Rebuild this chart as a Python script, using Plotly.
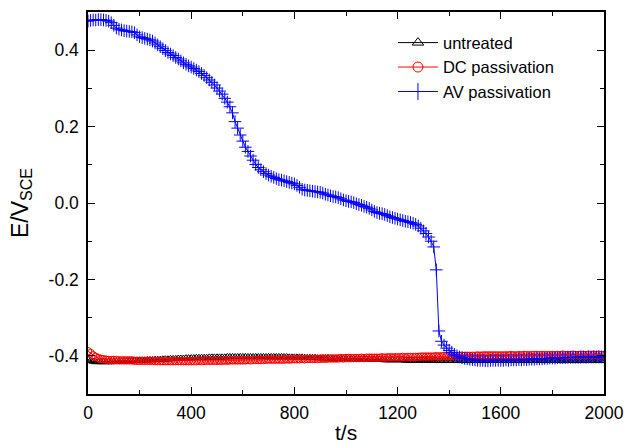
import plotly.graph_objects as go

t = list(range(0, 2001, 10))

untreated = [
    -0.410, -0.413, -0.415, -0.416, -0.416, -0.416, -0.416, -0.416, -0.416, -0.416,
    -0.416, -0.415, -0.415, -0.415, -0.414, -0.414, -0.414, -0.413, -0.413, -0.413,
    -0.412, -0.412, -0.412, -0.411, -0.411, -0.411, -0.410, -0.410, -0.410, -0.409,
    -0.409, -0.409, -0.408, -0.408, -0.408, -0.407, -0.407, -0.407, -0.406, -0.406,
    -0.406, -0.406, -0.405, -0.405, -0.405, -0.405, -0.405, -0.404, -0.404, -0.404,
    -0.404, -0.404, -0.404, -0.404, -0.403, -0.403, -0.403, -0.403, -0.403, -0.403,
    -0.403, -0.403, -0.403, -0.403, -0.403, -0.403, -0.403, -0.403, -0.403, -0.403,
    -0.403, -0.403, -0.403, -0.403, -0.403, -0.403, -0.403, -0.403, -0.404, -0.404,
    -0.404, -0.404, -0.404, -0.404, -0.405, -0.405, -0.405, -0.405, -0.405, -0.406,
    -0.406, -0.406, -0.406, -0.406, -0.407, -0.407, -0.407, -0.407, -0.407, -0.408,
    -0.408, -0.408, -0.408, -0.408, -0.409, -0.409, -0.409, -0.409, -0.409, -0.410,
    -0.410, -0.410, -0.410, -0.410, -0.410, -0.411, -0.411, -0.411, -0.411, -0.411,
    -0.411, -0.411, -0.411, -0.412, -0.412, -0.412, -0.412, -0.412, -0.412, -0.412,
    -0.412, -0.412, -0.412, -0.413, -0.412, -0.413, -0.413, -0.413, -0.413, -0.413,
    -0.413, -0.413, -0.413, -0.413, -0.413, -0.413, -0.413, -0.413, -0.413, -0.413,
    -0.413, -0.413, -0.413, -0.413, -0.413, -0.413, -0.413, -0.413, -0.413, -0.413,
    -0.413, -0.413, -0.413, -0.413, -0.413, -0.413, -0.413, -0.413, -0.413, -0.413,
    -0.413, -0.413, -0.413, -0.413, -0.413, -0.413, -0.413, -0.413, -0.413, -0.413,
    -0.413, -0.413, -0.413, -0.413, -0.413, -0.413, -0.413, -0.413, -0.413, -0.413,
    -0.413, -0.413, -0.413, -0.413, -0.413, -0.413, -0.413, -0.413, -0.413, -0.413,
    -0.413,
]

dc_passivation = [
    -0.388, -0.393, -0.399, -0.403, -0.406, -0.408, -0.409, -0.410, -0.411, -0.411,
    -0.411, -0.411, -0.412, -0.412, -0.412, -0.412, -0.412, -0.412, -0.413, -0.413,
    -0.413, -0.413, -0.413, -0.413, -0.413, -0.413, -0.414, -0.414, -0.414, -0.414,
    -0.414, -0.414, -0.414, -0.414, -0.414, -0.414, -0.414, -0.414, -0.414, -0.414,
    -0.414, -0.414, -0.414, -0.413, -0.414, -0.413, -0.413, -0.413, -0.413, -0.413,
    -0.413, -0.413, -0.413, -0.412, -0.413, -0.412, -0.412, -0.412, -0.412, -0.412,
    -0.412, -0.412, -0.411, -0.412, -0.411, -0.411, -0.411, -0.411, -0.411, -0.410,
    -0.410, -0.410, -0.410, -0.410, -0.410, -0.410, -0.410, -0.409, -0.410, -0.409,
    -0.409, -0.409, -0.409, -0.408, -0.409, -0.408, -0.408, -0.408, -0.408, -0.408,
    -0.408, -0.407, -0.408, -0.407, -0.407, -0.407, -0.407, -0.407, -0.406, -0.407,
    -0.406, -0.406, -0.406, -0.406, -0.406, -0.406, -0.405, -0.406, -0.405, -0.405,
    -0.405, -0.405, -0.405, -0.405, -0.404, -0.405, -0.404, -0.404, -0.404, -0.404,
    -0.404, -0.404, -0.403, -0.404, -0.403, -0.403, -0.403, -0.403, -0.403, -0.402,
    -0.402, -0.402, -0.402, -0.402, -0.402, -0.401, -0.402, -0.401, -0.401, -0.401,
    -0.401, -0.401, -0.400, -0.401, -0.400, -0.400, -0.400, -0.400, -0.400, -0.400,
    -0.400, -0.399, -0.400, -0.399, -0.399, -0.399, -0.399, -0.399, -0.399, -0.399,
    -0.399, -0.399, -0.399, -0.399, -0.398, -0.399, -0.399, -0.398, -0.399, -0.398,
    -0.398, -0.399, -0.398, -0.398, -0.398, -0.398, -0.398, -0.398, -0.398, -0.398,
    -0.398, -0.398, -0.398, -0.398, -0.397, -0.398, -0.398, -0.398, -0.397, -0.398,
    -0.398, -0.397, -0.398, -0.398, -0.397, -0.398, -0.397, -0.398, -0.397, -0.398,
    -0.398,
]

av_passivation = [
    0.476, 0.478, 0.479, 0.479, 0.480, 0.480, 0.479, 0.478, 0.476, 0.472,
    0.465, 0.458, 0.455, 0.453, 0.451, 0.450, 0.449, 0.448, 0.446, 0.440,
    0.435, 0.433, 0.431, 0.429, 0.427, 0.424, 0.419, 0.414, 0.409, 0.404,
    0.399, 0.394, 0.390, 0.386, 0.381, 0.377, 0.372, 0.367, 0.363, 0.359,
    0.356, 0.352, 0.348, 0.344, 0.339, 0.334, 0.328, 0.322, 0.316, 0.309,
    0.301, 0.293, 0.285, 0.274, 0.264, 0.252, 0.236, 0.213, 0.196, 0.178,
    0.162, 0.146, 0.135, 0.123, 0.112, 0.101, 0.093, 0.087, 0.082, 0.077,
    0.073, 0.070, 0.067, 0.064, 0.061, 0.060, 0.058, 0.056, 0.054, 0.052,
    0.050, 0.046, 0.041, 0.036, 0.034, 0.033, 0.032, 0.031, 0.030, 0.029,
    0.028, 0.026, 0.023, 0.021, 0.019, 0.017, 0.016, 0.014, 0.011, 0.008,
    0.006, 0.004, 0.003, 0.001, -0.002, -0.004, -0.006, -0.009, -0.011, -0.014,
    -0.018, -0.022, -0.025, -0.027, -0.028, -0.030, -0.033, -0.036, -0.038, -0.040,
    -0.042, -0.044, -0.046, -0.048, -0.049, -0.051, -0.053, -0.056, -0.060, -0.066,
    -0.073, -0.080, -0.089, -0.100, -0.115, -0.175, -0.335, -0.362, -0.372, -0.380,
    -0.386, -0.391, -0.396, -0.400, -0.403, -0.405, -0.407, -0.408, -0.409, -0.410,
    -0.411, -0.412, -0.412, -0.412, -0.413, -0.413, -0.412, -0.412, -0.412, -0.412,
    -0.412, -0.412, -0.411, -0.412, -0.411, -0.411, -0.411, -0.410, -0.411, -0.410,
    -0.410, -0.409, -0.409, -0.409, -0.408, -0.408, -0.408, -0.407, -0.407, -0.406,
    -0.406, -0.406, -0.405, -0.405, -0.405, -0.405, -0.404, -0.404, -0.404, -0.404,
    -0.404, -0.404, -0.403, -0.404, -0.403, -0.403, -0.403, -0.403, -0.403, -0.403,
    -0.403,
]

series_names = ["untreated", "DC passivation", "AV passivation"]
y_tickvals = [-0.4, -0.2, 0.0, 0.2, 0.4]
y_ticktext = ["-0.4", "-0.2", "0.0", "0.2", "0.4"]
x_tickvals = [0, 400, 800, 1200, 1600, 2000]
x_ticktext = ["0", "400", "800", "1200", "1600", "2000"]

FONT = "Liberation Sans, Arial, Helvetica, sans-serif"

styles = [
    dict(color="black", symbol="triangle-up-open", size=7, lsize=10),
    dict(color="#ff0000", symbol="circle-open", size=7.5, lsize=10),
    dict(color="#0000ff", symbol="cross-thin-open", size=9, lsize=12),
]

fig = go.Figure()
for name, ys, st in zip(series_names, [untreated, dc_passivation, av_passivation], styles):
    fig.add_trace(go.Scatter(
        x=t, y=ys, name=name, mode="lines+markers", showlegend=False,
        line=dict(color=st["color"], width=1),
        marker=dict(symbol=st["symbol"], size=st["size"], color=st["color"],
                    line=dict(width=1, color=st["color"])),
    ))
# legend entries (no data, larger symbols as in the reference legend)
for name, st in zip(series_names, styles):
    fig.add_trace(go.Scatter(
        x=[None], y=[None], name=name, mode="lines+markers", showlegend=True,
        line=dict(color=st["color"], width=1),
        marker=dict(symbol=st["symbol"], size=st["lsize"], color=st["color"],
                    line=dict(width=1, color=st["color"])),
    ))

axis_common = dict(
    showline=True, linecolor="black", linewidth=1.5, mirror="allticks",
    ticks="inside", ticklen=7, tickwidth=1.2, tickcolor="black",
    showgrid=False, zeroline=False, automargin=False,
    tickfont=dict(family=FONT, size=17.5, color="black"),
)

fig.update_xaxes(
    range=[0, 2000], tickvals=x_tickvals, ticktext=x_ticktext,
    minor=dict(dtick=200, ticks="inside", ticklen=4, tickcolor="black", tickwidth=1.2),
    ticklabelstandoff=2,
    **axis_common,
)
fig.update_yaxes(
    range=[-0.5, 0.5], tickvals=y_tickvals, ticktext=y_ticktext,
    minor=dict(dtick=0.1, ticks="inside", ticklen=4, tickcolor="black", tickwidth=1.2),
    title=dict(text="E/V<sub>SCE</sub>", font=dict(family=FONT, size=23, color="black"), standoff=14),
    ticklabelstandoff=4,
    **axis_common,
)

fig.add_annotation(
    text="t/s", xref="paper", yref="paper", x=0.5, y=-0.1,
    xanchor="center", yanchor="middle", showarrow=False,
    font=dict(family=FONT, size=21, color="black"),
)

fig.update_layout(
    width=624, height=445,
    margin=dict(l=88, r=20, t=12, b=51),
    plot_bgcolor="white", paper_bgcolor="white",
    font=dict(family=FONT, size=17, color="black"),
    showlegend=True,
    legend=dict(
        x=0.591, y=0.965, xanchor="left", yanchor="top",
        bgcolor="rgba(0,0,0,0)", borderwidth=0,
        font=dict(family=FONT, size=16.5, color="black"),
        tracegroupgap=0, itemsizing="trace", itemwidth=40,
    ),
)

fig.write_html("out.html")
